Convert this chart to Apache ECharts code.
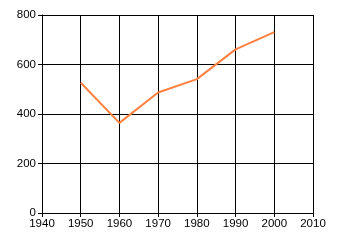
<!DOCTYPE html>
<html><head><meta charset="utf-8">
<script src="https://cdn.jsdelivr.net/npm/echarts@6/dist/echarts.min.js"></script>
<style>html,body{margin:0;padding:0;background:#fff}#c{width:340px;height:245px}</style>
</head><body><div id="c"></div>
<script>
var years = [1950, 1960, 1970, 1980, 1990, 2000];
var values = [526, 364, 487, 541, 661, 731];
var xTicks = [1940, 2010, 10];
var yTicks = [0, 800, 200];

var chart = echarts.init(document.getElementById('c'), null, {renderer: 'canvas'});
var axisFont = {color: '#000', fontFamily: 'Liberation Sans Narrow, Liberation Sans, Arial, sans-serif', fontSize: 11.5};
chart.setOption({
  animation: false,
  grid: {left: 42, right: 27, top: 15, bottom: 32, containLabel: false},
  xAxis: {
    type: 'value', min: xTicks[0], max: xTicks[1], interval: xTicks[2],
    axisLine: {lineStyle: {color: '#000', width: 1}},
    axisTick: {show: true, length: 4, lineStyle: {color: '#000'}},
    splitLine: {show: true, lineStyle: {color: '#000', width: 1}},
    axisLabel: Object.assign({margin: 5, formatter: function (v) { return String(v); }}, axisFont)
  },
  yAxis: {
    type: 'value', min: yTicks[0], max: yTicks[1], interval: yTicks[2],
    axisLine: {show: true, lineStyle: {color: '#000', width: 1}},
    axisTick: {show: true, length: 4, lineStyle: {color: '#000'}},
    splitLine: {show: true, lineStyle: {color: '#000', width: 1}},
    axisLabel: Object.assign({margin: 6, formatter: function (v) { return String(v); }}, axisFont)
  },
  series: [{
    type: 'line',
    data: years.map(function (y, i) { return [y, values[i]]; }),
    showSymbol: false,
    lineStyle: {color: '#ff8040', width: 2},
    itemStyle: {color: '#ff8040'}
  }]
});
</script></body></html>
